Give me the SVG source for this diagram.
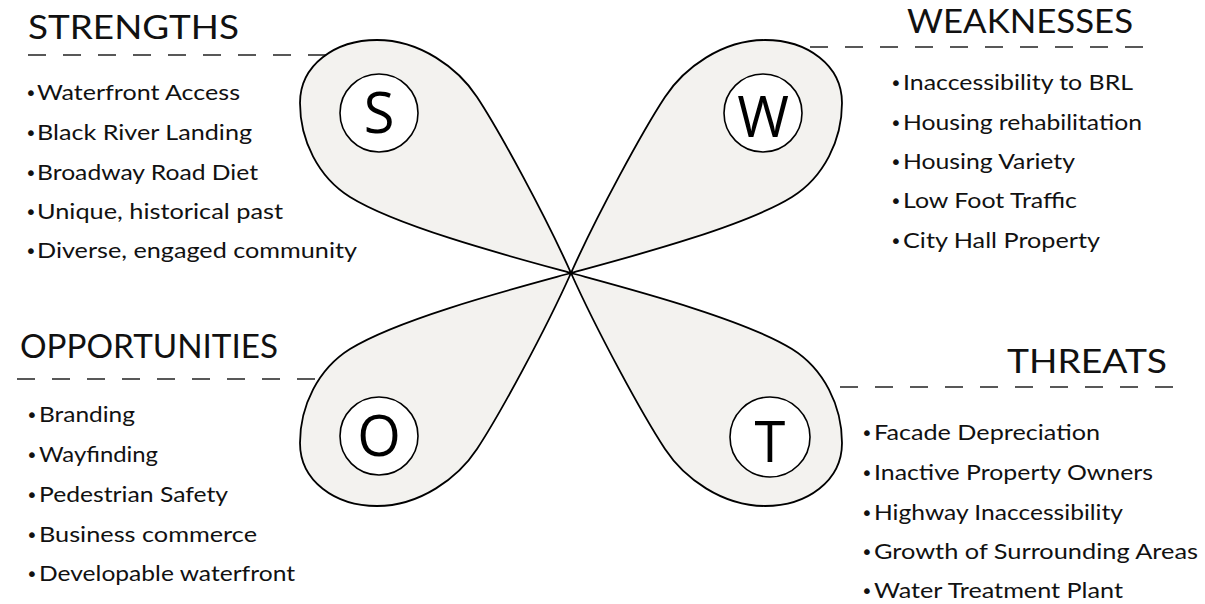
<svg xmlns="http://www.w3.org/2000/svg" width="1205" height="604" viewBox="0 0 1205 604">
<style>
.petal{fill:#f3f2ef;stroke:#000;stroke-width:1.8;stroke-linejoin:round}
.ring{fill:#fff;stroke:#000;stroke-width:1.6}
.letter{font-family:"Open Sans","Liberation Sans",sans-serif;font-size:56px;fill:#000;text-anchor:middle}
.title{font-family:Lato,"Liberation Sans",sans-serif;font-weight:400;font-size:32px;fill:#111}
.item{font-family:Lato,"Liberation Sans",sans-serif;font-size:21px;fill:#111}
.bul{font-family:"DejaVu Sans",sans-serif;font-size:20px;fill:#111}
.dash{stroke:#222;stroke-width:1.5;stroke-dasharray:18 17;fill:none}
</style>
<defs>
<path id="petalS" d="M571,273 C520,259 400,228 350,197 C318,177 300,140 300,103 C300,65 335,40 377,40 C420,40 458,68 477,97 C500,132 545,215 571,273 Z"/>
</defs>
<rect width="1205" height="604" fill="#fff"/>
<g id="dividers">
<line class="dash" x1="28" y1="55" x2="340" y2="55"/>
<line class="dash" x1="1143" y1="47" x2="790" y2="47"/>
<line class="dash" x1="17" y1="379" x2="340" y2="379"/>
<line class="dash" x1="1173" y1="387" x2="820" y2="387"/>
</g>
<g id="node-S">
<use href="#petalS" class="petal"/>
<circle class="ring" cx="379" cy="113" r="39"/>
<text class="letter" x="379" y="133">S</text>
</g>
<g id="node-W">
<use href="#petalS" class="petal" transform="translate(1142,0) scale(-1,1)"/>
<circle class="ring" cx="763" cy="113" r="39"/>
<text class="letter" x="763" y="137">W</text>
</g>
<g id="node-O">
<use href="#petalS" class="petal" transform="translate(0,546) scale(1,-1)"/>
<circle class="ring" cx="379" cy="436" r="39"/>
<text class="letter" x="379" y="456">O</text>
</g>
<g id="node-T">
<use href="#petalS" class="petal" transform="translate(1142,546) scale(-1,-1)"/>
<circle class="ring" cx="770" cy="437" r="40"/>
<text class="letter" x="770" y="462">T</text>
</g>
<g id="strengths">
<text class="title" x="28" y="39" textLength="211" lengthAdjust="spacingAndGlyphs">STRENGTHS</text>
<text class="bul" x="25" y="100">•</text><text class="item" x="37" y="100" textLength="203" lengthAdjust="spacingAndGlyphs">Waterfront Access</text>
<text class="bul" x="25" y="140">•</text><text class="item" x="37" y="140" textLength="215" lengthAdjust="spacingAndGlyphs">Black River Landing</text>
<text class="bul" x="25" y="180">•</text><text class="item" x="37" y="180" textLength="221" lengthAdjust="spacingAndGlyphs">Broadway Road Diet</text>
<text class="bul" x="25" y="219">•</text><text class="item" x="37" y="219" textLength="246" lengthAdjust="spacingAndGlyphs">Unique, historical past</text>
<text class="bul" x="25" y="258">•</text><text class="item" x="37" y="258" textLength="320" lengthAdjust="spacingAndGlyphs">Diverse, engaged community</text>
</g>
<g id="weaknesses">
<text class="title" x="907" y="33" textLength="226" lengthAdjust="spacingAndGlyphs">WEAKNESSES</text>
<text class="bul" x="890" y="90">•</text><text class="item" x="903" y="90" textLength="230" lengthAdjust="spacingAndGlyphs">Inaccessibility to BRL</text>
<text class="bul" x="890" y="130">•</text><text class="item" x="903" y="130" textLength="239" lengthAdjust="spacingAndGlyphs">Housing rehabilitation</text>
<text class="bul" x="890" y="169">•</text><text class="item" x="903" y="169" textLength="172" lengthAdjust="spacingAndGlyphs">Housing Variety</text>
<text class="bul" x="890" y="208">•</text><text class="item" x="903" y="208" textLength="174" lengthAdjust="spacingAndGlyphs">Low Foot Traffic</text>
<text class="bul" x="890" y="248">•</text><text class="item" x="903" y="248" textLength="197" lengthAdjust="spacingAndGlyphs">City Hall Property</text>
</g>
<g id="opportunities">
<text class="title" x="20" y="358" textLength="258" lengthAdjust="spacingAndGlyphs">OPPORTUNITIES</text>
<text class="bul" x="26" y="422">•</text><text class="item" x="39" y="422" textLength="96" lengthAdjust="spacingAndGlyphs">Branding</text>
<text class="bul" x="26" y="462">•</text><text class="item" x="39" y="462" textLength="119" lengthAdjust="spacingAndGlyphs">Wayfinding</text>
<text class="bul" x="26" y="502">•</text><text class="item" x="39" y="502" textLength="189" lengthAdjust="spacingAndGlyphs">Pedestrian Safety</text>
<text class="bul" x="26" y="542">•</text><text class="item" x="39" y="542" textLength="218" lengthAdjust="spacingAndGlyphs">Business commerce</text>
<text class="bul" x="26" y="581">•</text><text class="item" x="39" y="581" textLength="256" lengthAdjust="spacingAndGlyphs">Developable waterfront</text>
</g>
<g id="threats">
<text class="title" x="1007" y="373" textLength="160" lengthAdjust="spacingAndGlyphs">THREATS</text>
<text class="bul" x="861" y="440">•</text><text class="item" x="874" y="440" textLength="226" lengthAdjust="spacingAndGlyphs">Facade Depreciation</text>
<text class="bul" x="861" y="480">•</text><text class="item" x="874" y="480" textLength="279" lengthAdjust="spacingAndGlyphs">Inactive Property Owners</text>
<text class="bul" x="861" y="520">•</text><text class="item" x="874" y="520" textLength="249" lengthAdjust="spacingAndGlyphs">Highway Inaccessibility</text>
<text class="bul" x="861" y="559">•</text><text class="item" x="874" y="559" textLength="324" lengthAdjust="spacingAndGlyphs">Growth of Surrounding Areas</text>
<text class="bul" x="861" y="598">•</text><text class="item" x="874" y="598" textLength="249" lengthAdjust="spacingAndGlyphs">Water Treatment Plant</text>
</g>
</svg>
